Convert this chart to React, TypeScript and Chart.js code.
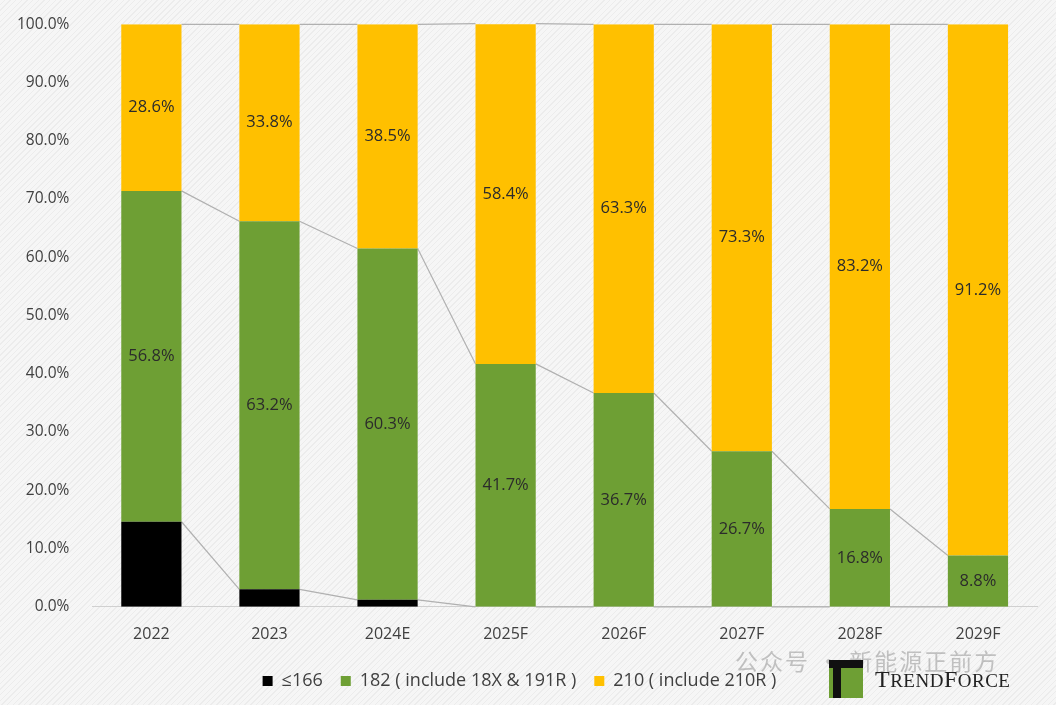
import { useEffect, useRef } from "react";
import Chart from "chart.js/auto";

const years = ["2022", "2023", "2024E", "2025F", "2026F", "2027F", "2028F", "2029F"];
const size166 = [14.6, 3.0, 1.2, 0, 0, 0, 0, 0];
const size182 = [56.8, 63.2, 60.3, 41.7, 36.7, 26.7, 16.8, 8.8];
const size210 = [28.6, 33.8, 38.5, 58.4, 63.3, 73.3, 83.2, 91.2];
const yTicks = [0, 10, 20, 30, 40, 50, 60, 70, 80, 90, 100];

const FONT = "'Open Sans', 'DejaVu Sans', sans-serif";

// grey connectors between the tops of each series, Excel style
const seriesLines = {
  id: "seriesLines",
  beforeDatasetsDraw(chart: any) {
    const ctx = chart.ctx;
    ctx.save();
    ctx.strokeStyle = "#b0b0b0";
    ctx.lineWidth = 1.2;
    chart.data.datasets.forEach((_: any, d: number) => {
      const bars = chart.getDatasetMeta(d).data;
      for (let i = 0; i < bars.length - 1; i++) {
        const a = bars[i];
        const b = bars[i + 1];
        ctx.beginPath();
        ctx.moveTo(a.x + a.width / 2, a.y);
        ctx.lineTo(b.x - b.width / 2, b.y);
        ctx.stroke();
      }
    });
    ctx.restore();
  },
};

const segmentLabels = {
  id: "segmentLabels",
  afterDatasetsDraw(chart: any) {
    const ctx = chart.ctx;
    ctx.save();
    ctx.font = `16.5px ${FONT}`;
    ctx.fillStyle = "#2b2b2b";
    ctx.textAlign = "center";
    ctx.textBaseline = "middle";
    [1, 2].forEach((d) => {
      const values = chart.data.datasets[d].data;
      chart.getDatasetMeta(d).data.forEach((bar: any, i: number) => {
        ctx.fillText(values[i].toFixed(1) + "%", bar.x, (bar.y + bar.base) / 2);
      });
    });
    ctx.restore();
  },
};

export default function App() {
  const chartRef = useRef<HTMLCanvasElement>(null);
  const chartInstance = useRef<Chart | null>(null);

  useEffect(() => {
    document.body.style.margin = "0";
    if (chartRef.current) {
      const ctx = chartRef.current.getContext("2d");
      if (ctx) {
        if (chartInstance.current) {
          chartInstance.current.destroy();
        }

        chartInstance.current = new Chart(ctx, {
          type: "bar",
          data: {
            labels: years,
            datasets: [
              { label: "≤166", data: size166, backgroundColor: "#000000" },
              { label: "182 ( include 18X & 191R )", data: size182, backgroundColor: "#6E9F34" },
              { label: "210 ( include 210R )", data: size210, backgroundColor: "#FFC000" },
            ],
          },
          options: {
            animation: false,
            responsive: true,
            maintainAspectRatio: false,
            layout: { padding: { top: 12, left: 2, right: 19, bottom: 5 } },
            datasets: {
              bar: { barPercentage: 0.51, categoryPercentage: 1 },
            },
            scales: {
              x: {
                stacked: true,
                grid: { display: false },
                border: { color: "#d0d0d0" },
                ticks: { color: "#404040", font: { family: FONT, size: 16 }, padding: 10 },
              },
              y: {
                stacked: true,
                min: 0,
                max: 100,
                afterBuildTicks: (axis: any) => {
                  axis.ticks = yTicks.map((v) => ({ value: v }));
                },
                grid: { display: false },
                border: { display: false },
                ticks: {
                  color: "#404040",
                  font: { family: FONT, size: 15.5 },
                  padding: 15,
                  callback: (v: any) => Number(v).toFixed(1) + "%",
                },
              },
            },
            plugins: {
              legend: {
                position: "bottom",
                labels: {
                  boxWidth: 10,
                  boxHeight: 10,
                  padding: 18,
                  color: "#404040",
                  font: { family: FONT, size: 18 },
                },
              },
              tooltip: { enabled: false },
            },
          },
          plugins: [seriesLines, segmentLabels],
        });
      }
    }

    return () => {
      if (chartInstance.current) {
        chartInstance.current.destroy();
        chartInstance.current = null;
      }
    };
  }, []);

  return (
    <div
      style={{
        position: "relative",
        width: 1056,
        height: 705,
        background:
          "repeating-linear-gradient(135deg, #f6f6f6 0px, #f6f6f6 3px, #ececec 3px, #ececec 4px)",
        overflow: "hidden",
      }}
    >
      <canvas ref={chartRef} />
      <div
        style={{
          position: "absolute",
          left: 735,
          top: 643,
          fontFamily: "'Noto Sans CJK SC', sans-serif",
          fontSize: 23,
          color: "rgba(150,150,150,0.55)",
          letterSpacing: 2,
        }}
      >
        公众号 · 新能源正前方
      </div>
      <div style={{ position: "absolute", left: 829, top: 660, display: "flex", alignItems: "center" }}>
        <div style={{ position: "relative", width: 34, height: 38, background: "#6E9F34" }}>
          <div style={{ position: "absolute", left: 0, top: 0, width: 34, height: 8, background: "#111" }} />
          <div style={{ position: "absolute", left: 4, top: 8, width: 8, height: 30, background: "#111" }} />
        </div>
        <div
          style={{
            marginLeft: 12,
            fontFamily: "'Liberation Serif', serif",
            fontSize: 24,
            color: "#222",
            letterSpacing: 0.5,
          }}
        >
          T<span style={{ fontSize: 19 }}>REND</span>F<span style={{ fontSize: 19 }}>ORCE</span>
        </div>
      </div>
    </div>
  );
}
